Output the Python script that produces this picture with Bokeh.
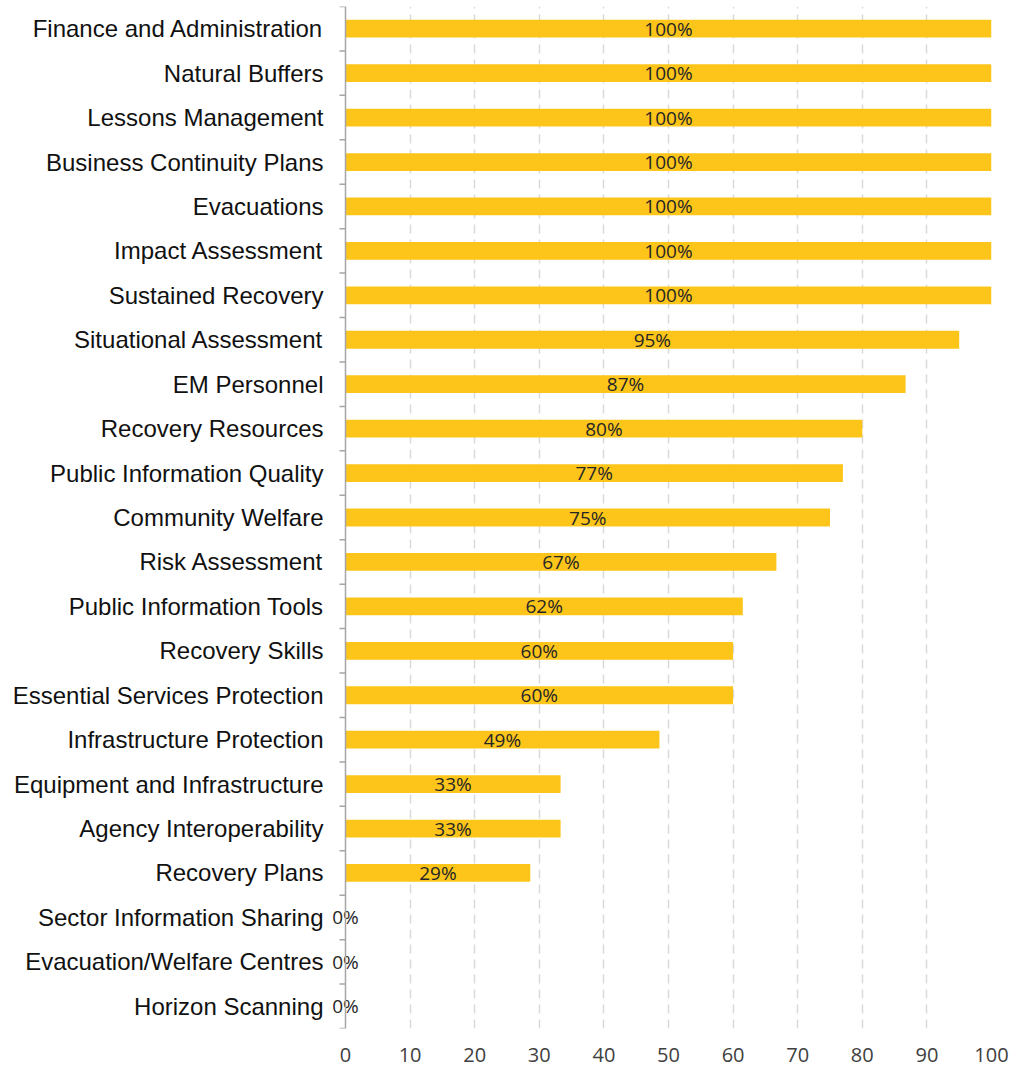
from bokeh.plotting import figure
from bokeh.models import ColumnDataSource, FixedTicker, LinearAxis, Range1d, Span
from bokeh.core.properties import value
from bokeh.embed import file_html
from bokeh.resources import INLINE

categories = [
    "Finance and Administration", "Natural Buffers", "Lessons Management",
    "Business Continuity Plans", "Evacuations", "Impact Assessment",
    "Sustained Recovery", "Situational Assessment", "EM Personnel",
    "Recovery Resources", "Public Information Quality", "Community Welfare",
    "Risk Assessment", "Public Information Tools", "Recovery Skills",
    "Essential Services Protection", "Infrastructure Protection",
    "Equipment and Infrastructure", "Agency Interoperability", "Recovery Plans",
    "Sector Information Sharing", "Evacuation/Welfare Centres", "Horizon Scanning",
]
values = [100, 100, 100, 100, 100, 100, 100, 95, 86.7, 80, 77, 75, 66.7, 61.5,
          60, 60, 48.6, 33.3, 33.3, 28.6, 0, 0, 0]
x_ticks = [0, 10, 20, 30, 40, 50, 60, 70, 80, 90, 100]

n = len(categories)
ypos = [n - 1 - i for i in range(n)]
labels = [f"{round(v)}%" for v in values]

src = ColumnDataSource(dict(
    y=ypos, v=values, half=[v / 2 for v in values], lab=labels, cat=categories))

X_START = -2.94
p = figure(width=1011, height=1068, output_backend="svg", toolbar_location=None,
           x_range=Range1d(X_START, 100), y_range=Range1d(-0.5, n - 0.5),
           y_axis_location=None, x_axis_location=None,
           min_border_left=326, min_border_right=20, min_border_top=6,
           min_border_bottom=40)
p.outline_line_color = None
p.background_fill_color = "white"
p.border_fill_color = "white"

p.ygrid.grid_line_color = None
p.xgrid.ticker = FixedTicker(ticks=x_ticks[1:])
p.xgrid.grid_line_color = "#d9d9d9"
p.xgrid.grid_line_width = 1.5
p.xgrid.grid_line_dash = "9 6"

# value axis line at zero with category boundary ticks
p.add_layout(Span(location=0, dimension="height", line_color="#a6a6a6",
                  line_width=1.5))
bounds = [k - 0.5 for k in range(n + 1)]
p.segment(x0=[-0.93] * len(bounds), x1=[0] * len(bounds), y0=bounds, y1=bounds,
          line_color="#a6a6a6", line_width=1.5)

p.hbar(y="y", right="v", left=0, height=0.4, source=src,
       fill_color="#FDC51A", line_color=None)

p.text(x="half", y="y", text="lab", source=src, text_align="center",
       text_baseline="middle", text_font=value("Open Sans"),
       text_font_size="19px", text_color="#262626")

# left category labels
yaxis = LinearAxis(
    ticker=FixedTicker(ticks=ypos, minor_ticks=[]),
    major_label_overrides={y: c for y, c in zip(ypos, categories)},
)
yaxis.axis_line_color = None
yaxis.major_tick_line_color = None
yaxis.minor_tick_line_color = None
yaxis.major_tick_out = 0
yaxis.major_tick_in = 0
yaxis.major_label_standoff = 3
yaxis.major_label_text_font = "Liberation Sans"
yaxis.major_label_text_font_size = "24px"
yaxis.major_label_text_color = "#111111"
p.add_layout(yaxis, "left")

# bottom numeric axis
xaxis = LinearAxis(ticker=FixedTicker(ticks=x_ticks))
xaxis.axis_line_color = None
xaxis.major_tick_line_color = None
xaxis.minor_tick_line_color = None
xaxis.major_tick_out = 0
xaxis.major_tick_in = 0
xaxis.major_label_standoff = 19
xaxis.major_label_text_font = "Open Sans"
xaxis.major_label_text_font_size = "20px"
xaxis.major_label_text_color = "#404040"
p.add_layout(xaxis, "below")

open("out.html", "w").write(file_html(p, INLINE))
